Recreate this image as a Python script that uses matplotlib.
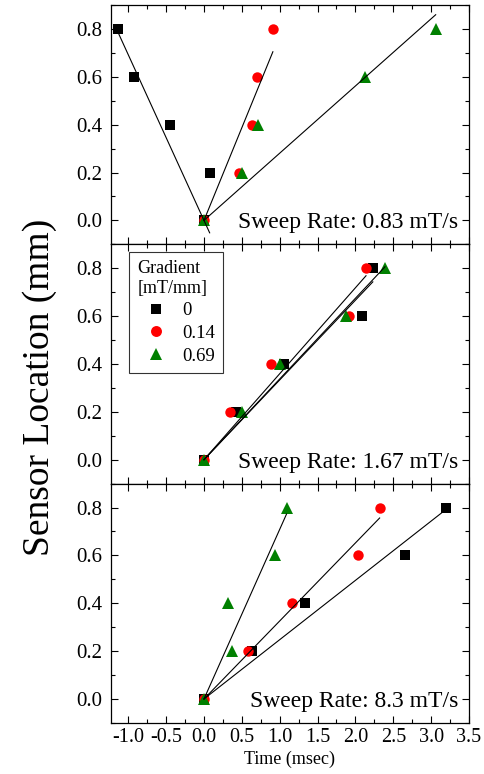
import matplotlib
matplotlib.use("Agg")
import matplotlib.pyplot as plt
from matplotlib.ticker import MultipleLocator
import numpy as np

plt.rcParams['font.family'] = ['Liberation Serif', 'DejaVu Serif']

# sensor positions (mm), same for every series
y_pos = [0.0, 0.2, 0.4, 0.6, 0.8]

# arrival times (msec) per sweep rate, per gradient
t_083_g0 = [0.0, 0.075, -0.45, -0.93, -1.13]
t_083_g014 = [0.0, 0.46, 0.63, 0.70, 0.91]
t_083_g069 = [0.0, 0.50, 0.72, 2.12, 3.06]

t_167_g0 = [0.0, 0.42, 1.06, 2.09, 2.23]
t_167_g014 = [0.0, 0.35, 0.89, 1.91, 2.14]
t_167_g069 = [0.0, 0.50, 1.00, 1.88, 2.39]

t_83_g0 = [0.0, 0.64, 1.33, 2.65, 3.19]
t_83_g014 = [0.0, 0.58, 1.16, 2.04, 2.32]
t_83_g069 = [0.0, 0.37, 0.32, 0.94, 1.09]

gradients = ["0", "0.14", "0.69"]
sweep_labels = ["Sweep Rate: 0.83 mT/s", "Sweep Rate: 1.67 mT/s", "Sweep Rate: 8.3 mT/s"]

panels = [
    [t_083_g0, t_083_g014, t_083_g069],
    [t_167_g0, t_167_g014, t_167_g069],
    [t_83_g0, t_83_g014, t_83_g069],
]

styles = [("s", "black", 6.5), ("o", "red", 7.5), ("^", "green", 8)]

fig, axes = plt.subplots(3, 1, figsize=(4.84, 7.74), dpi=100, sharex=True)
fig.subplots_adjust(left=0.229, right=0.969, bottom=0.066, top=0.9935, hspace=0)

for ax, series, lab in zip(axes, panels, sweep_labels):
    handles = []
    for t, (m, c, ms), g in zip(series, styles, gradients):
        h, = ax.plot(t, y_pos, linestyle="none", marker=m, color=c,
                     markersize=ms, markeredgewidth=0, label=g, zorder=2)
        handles.append(h)
    for t in series:
        x = np.array(t)
        y = np.array(y_pos)
        k = np.sum(x * y) / np.sum(x * x)  # fit through origin
        xs = np.array([x.min(), x.max()])
        ax.plot(xs, k * xs, color="black", linewidth=0.8, zorder=3)
    ax.text(0.969, 0.067, lab, transform=ax.transAxes, ha="right",
            va="baseline", fontsize=17)
    ax.set_xlim(-1.23, 3.5)
    ax.set_ylim(-0.1, 0.9)
    ax.xaxis.set_major_locator(MultipleLocator(0.5))
    ax.xaxis.set_minor_locator(MultipleLocator(0.25))
    ax.yaxis.set_major_locator(MultipleLocator(0.2))
    ax.yaxis.set_minor_locator(MultipleLocator(0.1))
    ax.yaxis.set_major_formatter(matplotlib.ticker.FormatStrFormatter("%.1f"))
    ax.xaxis.set_major_formatter(matplotlib.ticker.FormatStrFormatter("%.1f"))
    ax.tick_params(which="both", direction="in", top=True, right=True)
    ax.tick_params(which="major", length=5, width=0.8)
    ax.tick_params(which="minor", length=3, width=0.8)
    ax.tick_params(axis="y", labelsize=15, pad=6)
    ax.tick_params(axis="x", labelsize=14.5, pad=4)
    for s in ax.spines.values():
        s.set_linewidth(0.9)

leg = axes[1].legend(handles=handles, title="Gradient\n[mT/mm]", loc="upper left",
                     bbox_to_anchor=(0.05, 0.97), borderaxespad=0, fontsize=13.5,
                     title_fontsize=13, frameon=True, fancybox=False, edgecolor="black",
                     handlelength=2.0, handletextpad=0.4, borderpad=0.45,
                     labelspacing=0.3, alignment="left", markerscale=1.05)
leg.get_frame().set_linewidth(0.8)

axes[2].set_xlabel("Time (msec)", fontsize=13, labelpad=2)
fig.text(0.082, 0.5, "Sensor Location (mm)", rotation=90, ha="center",
         va="center", fontsize=27)

fig.savefig("out.png", dpi=100)
